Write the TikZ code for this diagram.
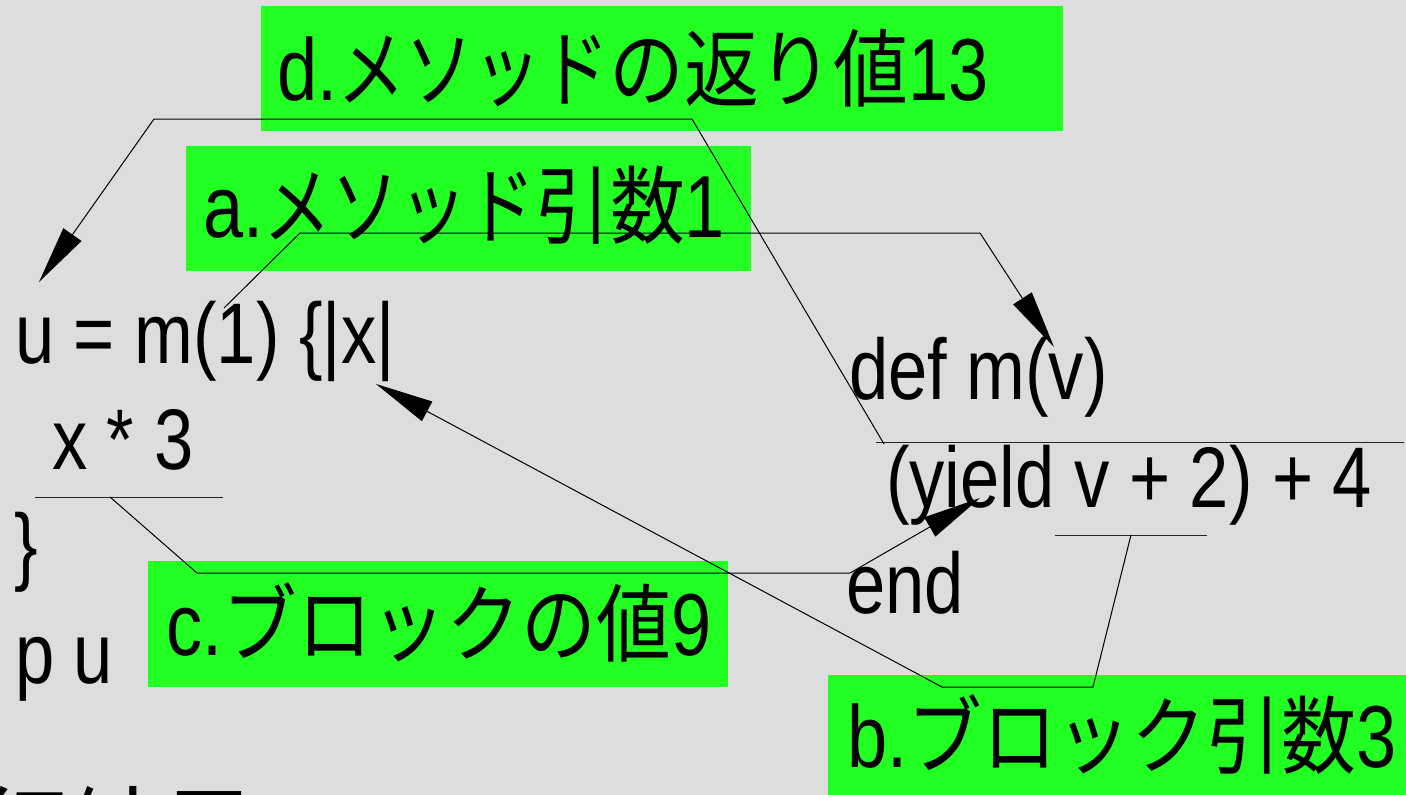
\documentclass[tikz,border=0pt]{standalone}
\usepackage{fontspec}
\setmainfont{Liberation Sans}[FakeStretch=0.82]
\newfontfamily\jpfont{Noto Sans CJK JP}[FakeStretch=0.88]
\newfontfamily\jpnarrow{Noto Sans CJK JP}[FakeStretch=0.8]
\usetikzlibrary{arrows.meta}
\definecolor{bgcol}{HTML}{DDDDDD}
\definecolor{labcol}{HTML}{22FF22}
\newcommand{\jtext}[1]{{\jpfont\fontsize{85}{90}\selectfont #1}}
\newcommand{\jnarrow}[1]{{\jpnarrow\fontsize{85}{90}\selectfont #1}}
\begin{document}
\begin{tikzpicture}[x=1pt,y=-1pt,
  codetext/.style={anchor=base west, inner sep=0pt, font=\fontsize{86}{90}\selectfont},
  labtext/.style={anchor=base west, inner sep=0pt, font=\fontsize{88}{90}\selectfont},
  labbox/.style={fill=labcol, draw=none},
  conn/.style={line width=1pt, black},
  arr/.style={conn, -{Triangle[length=58pt,width=22pt]}},
  uline/.style={line width=1pt, black!85}]
\useasboundingbox[fill=bgcol] (0,0) rectangle (1406,795);

% label boxes
\fill[labbox] (261,6) rectangle (1063,131);
\fill[labbox] (186,146) rectangle (751,271);
\fill[labbox] (148,561) rectangle (728,687);
\fill[labbox] (828,675) rectangle (1406,795);

% label texts
\node[labtext] (dlab) at (277,100) {d.\jnarrow{メソッド}\jtext{の返り値}13};
\node[labtext] (alab) at (203,237) {a.\jnarrow{メソッド}\jtext{引数}1};
\node[labtext] (clab) at (166,655) {c.\jtext{ブロックの値}9};
\node[labtext] (blab) at (847,767) {b.\jtext{ブロック引数}3};

% code texts
\node[codetext] (line1) at (15,363) {u = m(1) \{|x|};
\node[codetext] (line2) at (52,469) {x * 3};
\node[codetext] (line3) at (14,574) {\}};
\node[codetext] (line4) at (15,683) {p u};
\node[codetext] (defm) at (849,399) {def m(v)};
\node[codetext] (yld) at (886,507) {(yield v + 2) + 4};
\node[codetext] (endk) at (846,613) {end};
\node[anchor=base west, inner sep=0pt, font=\jpfont\fontsize{106}{110}\selectfont] (result) at (-24,875) {行結果};

% underline coordinates
\coordinate (defL) at (876,442);
\coordinate (defR) at (1404,442);
\coordinate (x3L) at (35,497);
\coordinate (x3R) at (223,497);
\coordinate (v2L) at (1055,535);
\coordinate (v2R) at (1207,535);
\draw[uline] (defL) -- (defR);
\draw[uline] (x3L) -- (x3R);
\draw[uline] (v2L) -- (v2R);

% connector points
\coordinate (dS) at (884,444);
\coordinate (d1) at (692,119);
\coordinate (d2) at (154,119);
\coordinate (dT) at (39,282);
\coordinate (aS) at (224,308);
\coordinate (a1) at (300,233);
\coordinate (a2) at (980,233);
\coordinate (aT) at (1054,347);
\coordinate (cS) at (110,497);
\coordinate (c1) at (197,573);
\coordinate (c2) at (850,573);
\coordinate (cT) at (980,498);
\coordinate (bS) at (1131,535);
\coordinate (b1) at (1093,687);
\coordinate (b2) at (942,687);
\coordinate (bT) at (376,384);

\draw[arr] (dS) -- (d1) -- (d2) -- (dT);
\draw[arr] (aS) -- (a1) -- (a2) -- (aT);
\draw[arr] (cS) -- (c1) -- (c2) -- (cT);
\draw[arr] (bS) -- (b1) -- (b2) -- (bT);
\end{tikzpicture}
\end{document}
